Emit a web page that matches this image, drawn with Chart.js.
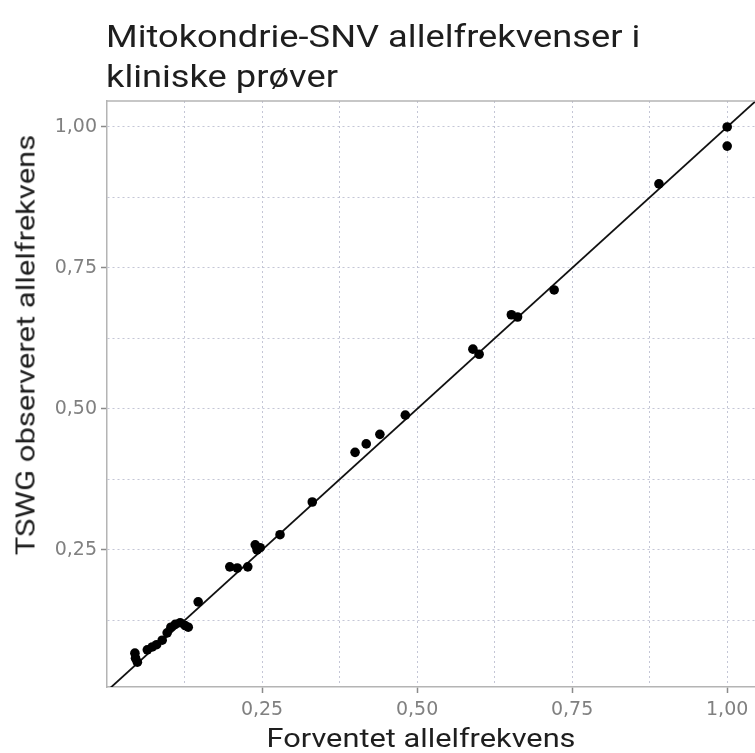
<!DOCTYPE html>
<html lang="no">
<head>
  <meta charset="UTF-8" />
  <title>Mitokondrie-SNV allelfrekvenser</title>
  <script src="https://cdn.jsdelivr.net/npm/chart.js"></script>
  <style>
    body {
      margin: 0;
      background: #fff;
      overflow: hidden;
    }
    #wrap {
      position: relative;
      width: 755px;
      height: 753px;
      overflow: hidden;
    }
    #plot {
      position: absolute;
      left: 0;
      top: 0;
    }
    .label {
      position: absolute;
      font-family: Roboto, sans-serif;
      color: #1e1e1e;
      white-space: nowrap;
    }
    #title {
      left: 106px;
      top: 17px;
      font-size: 31px;
      line-height: 40px;
      transform: scaleX(1.17);
      transform-origin: 0 0;
    }
    #xTitle {
      left: 421px;
      top: 738px;
      font-size: 25px;
      transform: translate(-50%, -50%) scaleX(1.23);
    }
    #yTitle {
      left: 26px;
      top: 345px;
      font-size: 25px;
      transform: translate(-50%, -50%) rotate(-90deg) scaleX(1.24);
    }
  </style>
</head>
<body>
  <div id="wrap">
    <canvas id="plot" width="800" height="753"></canvas>
    <div class="label" id="title">Mitokondrie-SNV allelfrekvenser i<br>kliniske prøver</div>
    <div class="label" id="xTitle">Forventet allelfrekvens</div>
    <div class="label" id="yTitle">TSWG observeret allelfrekvens</div>
  </div>

  <script>
    const expectedAF = [
      0.045, 0.046, 0.049, 0.065, 0.073, 0.080, 0.089, 0.097, 0.103, 0.110,
      0.118, 0.126, 0.131, 0.147, 0.198, 0.210, 0.227, 0.239, 0.242, 0.247,
      0.279, 0.331, 0.400, 0.418, 0.440, 0.481, 0.590, 0.600, 0.652, 0.662,
      0.721, 0.890, 1.000, 1.000
    ];
    const observedAF = [
      0.067, 0.058, 0.051, 0.073, 0.078, 0.082, 0.090, 0.103, 0.113, 0.118,
      0.121, 0.116, 0.113, 0.158, 0.220, 0.218, 0.220, 0.259, 0.250, 0.254,
      0.277, 0.335, 0.423, 0.438, 0.455, 0.489, 0.606, 0.597, 0.667, 0.663,
      0.711, 0.899, 1.000, 0.966
    ];

    // identity line y = x
    const identityX = [0, 1.1];
    const identityY = [0, 1.1];

    // grid lines every 0.125, labels only on the quarter marks
    const gridTicks = [0.125, 0.25, 0.375, 0.5, 0.625, 0.75, 0.875, 1.0];
    const labelTicks = [0.25, 0.5, 0.75, 1.0];

    const isLabelled = v => labelTicks.some(t => Math.abs(t - v) < 1e-6);
    const fmt = v => v.toFixed(2).replace('.', ',');

    const points = expectedAF.map((x, i) => ({ x: x, y: observedAF[i] }));
    const line = identityX.map((x, i) => ({ x: x, y: identityY[i] }));

    // top frame line of the panel
    const frameTop = {
      id: 'frameTop',
      afterDraw(chart) {
        const { ctx, chartArea } = chart;
        ctx.save();
        ctx.strokeStyle = '#b4b4b4';
        ctx.lineWidth = 1.5;
        ctx.beginPath();
        ctx.moveTo(chartArea.left, chartArea.top);
        ctx.lineTo(chartArea.right, chartArea.top);
        ctx.stroke();
        ctx.restore();
      }
    };

    function axis(min, max, size, pad) {
      return {
        type: 'linear',
        min: min,
        max: max,
        afterBuildTicks: scale => {
          scale.ticks = gridTicks.map(v => ({ value: v }));
        },
        afterFit: scale => {
          if (scale.isHorizontal()) scale.height = size;
          else scale.width = size;
        },
        grid: {
          color: 'rgba(190, 192, 210, 0.9)',
          lineWidth: 1,
          tickLength: 6,
          tickWidth: 1.5,
          tickColor: c => (c.tick && isLabelled(c.tick.value)) ? '#8a8a8a' : 'rgba(0,0,0,0)'
        },
        border: {
          display: true,
          color: '#b4b4b4',
          width: 1.5,
          dash: [2, 3]
        },
        ticks: {
          autoSkip: false,
          maxRotation: 0,
          padding: pad,
          color: '#808080',
          font: { family: '"DejaVu Sans", sans-serif', size: 19 },
          callback: v => isLabelled(v) ? fmt(v) : ''
        }
      };
    }

    new Chart(document.getElementById('plot'), {
      type: 'scatter',
      data: {
        datasets: [
          {
            data: line,
            showLine: true,
            borderColor: '#111',
            borderWidth: 1.8,
            pointRadius: 0,
            order: 2
          },
          {
            data: points,
            backgroundColor: '#000',
            borderColor: '#000',
            pointRadius: 4.8,
            pointBorderWidth: 0,
            order: 1
          }
        ]
      },
      options: {
        responsive: false,
        animation: false,
        layout: { padding: { top: 101, right: 17, left: 0, bottom: 0 } },
        plugins: {
          legend: { display: false },
          tooltip: { enabled: false }
        },
        scales: {
          x: axis(0, 1.09, 66, 6),
          y: axis(0.007, 1.046, 107, 4)
        }
      },
      plugins: [frameTop]
    });
  </script>
</body>
</html>
